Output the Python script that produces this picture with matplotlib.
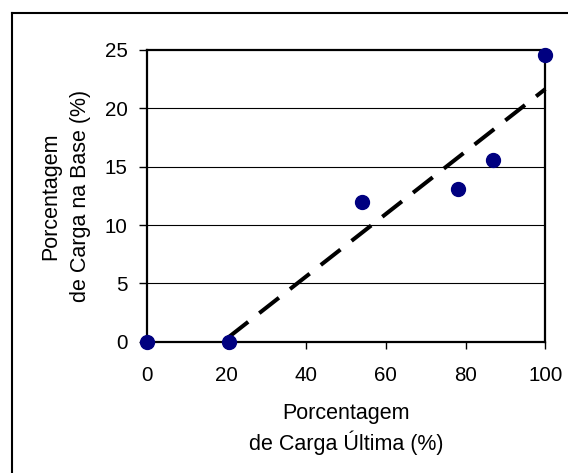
import numpy as np
import matplotlib
matplotlib.use("Agg")
import matplotlib.pyplot as plt
from matplotlib.lines import Line2D

plt.rcParams['font.family'] = ['Liberation Sans', 'DejaVu Sans']

# Data
carga_ultima = [0, 20.5, 54, 78, 87, 100]
carga_base = [0, 0, 12, 13.1, 15.6, 24.6]
x_ticks = [0, 20, 40, 60, 80, 100]
y_ticks = [0, 5, 10, 15, 20, 25]
x_label = "Porcentagem\nde Carga Última (%)"
y_label = "Porcentagem\nde Carga na Base (%)"

# linear trend fitted to the points from the second one on
fit_x = np.array(carga_ultima[1:])
fit_y = np.array(carga_base[1:])
slope, intercept = np.polyfit(fit_x, fit_y, 1)
trend_x = np.array([fit_x.min(), fit_x.max()])
trend_y = slope * trend_x + intercept

fig = plt.figure(figsize=(5.68, 4.73), dpi=100)
ax = fig.add_axes([0.2585, 0.2776, 0.7015, 0.6167])

fs_tick = 14.8
fs_lab = 15.5
ax.set_xlim(0, 100)
ax.set_ylim(0, 25)
ax.set_xticks(x_ticks)
ax.set_yticks(y_ticks)
ax.tick_params(axis='x', direction='out', length=5, width=1, pad=12.5, labelsize=fs_tick, colors='black')
ax.tick_params(axis='y', direction='out', length=6, width=1, pad=8, labelsize=fs_tick, colors='black')
for s in ax.spines.values():
    s.set_linewidth(1.6)
    s.set_color('black')

for yv in y_ticks[1:-1]:
    ax.axhline(yv, color='black', lw=0.8, zorder=1)

ax.plot(trend_x, trend_y, color='black', lw=2.9, linestyle=(0, (6.2, 3.5)),
        dash_capstyle='butt', zorder=3, clip_on=False)
ax.plot(carga_ultima, carga_base, linestyle='none', marker='o', markersize=10,
        color='#000080', markeredgecolor='#000080', zorder=4, clip_on=False)

ax.set_xlabel(x_label, fontsize=fs_lab, linespacing=1.35, labelpad=13)
ax.set_ylabel(y_label, fontsize=fs_lab, linespacing=1.55, labelpad=10)

# outer border (top and left visible)
x0 = 12 / 568
yt = 1 - 13 / 473
fig.add_artist(Line2D([x0, 1.01], [yt, yt], color='black', lw=1.5, transform=fig.transFigure))
fig.add_artist(Line2D([x0, x0], [-0.01, yt], color='black', lw=1.5, transform=fig.transFigure))

fig.savefig("out.png", dpi=100)
